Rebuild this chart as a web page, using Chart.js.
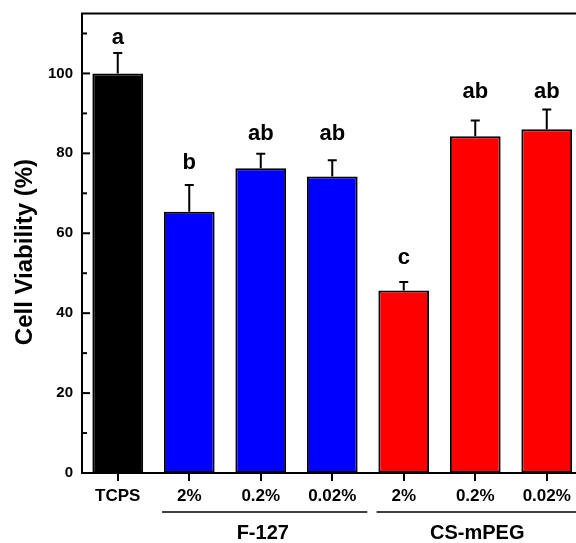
<!DOCTYPE html>
<html>
<head>
<meta charset="utf-8">
<script src="https://cdn.jsdelivr.net/npm/chart.js@4/dist/chart.umd.min.js"></script>
<style>
  html, body { margin: 0; padding: 0; background: #fff; overflow: hidden; }
  #wrap { width: 600px; height: 543px; }
</style>
</head>
<body>
<div id="wrap"><canvas id="c" width="600" height="543"></canvas></div>
<script>
// ---- data ----
const categories = ['TCPS', '2%', '0.2%', '0.02%', '2%', '0.2%', '0.02%'];
const viability = [100, 65.4, 76.3, 74.2, 45.7, 84.3, 86.0];
const errors    = [5.1, 6.7, 3.6, 4.1, 2.1, 3.9, 5.0];
const letters   = ['a', 'b', 'ab', 'ab', 'c', 'ab', 'ab'];
const letterAt  = [107.3, 76.2, 83.3, 83.3, 52.3, 93.9, 93.9];   // baseline of significance letters (in % units)
const barColors = ['#000000', '#0000ff', '#0000ff', '#0000ff', '#ff0000', '#ff0000', '#ff0000'];
const groupNames = ['F-127', 'CS-mPEG'];
const groupFirst = [1, 4];
const groupLast  = [3, 6];
const yTicks = [0, 20, 40, 60, 80, 100];
const yTitle = 'Cell Viability (%)';

const FONT = "'Liberation Sans', Arial, Helvetica, sans-serif";

const decor = {
  id: 'decor',
  afterDatasetsDraw(chart) {
    const ctx = chart.ctx;
    const ca = chart.chartArea;
    const xs = chart.scales.x, ys = chart.scales.y;
    ctx.save();
    ctx.strokeStyle = '#000';
    ctx.fillStyle = '#000';
    // error bars (upper only)
    ctx.lineWidth = 2;
    viability.forEach((v, i) => {
      const x = xs.getPixelForValue(i);
      const y0 = ys.getPixelForValue(v);
      const y1 = ys.getPixelForValue(v + errors[i]);
      ctx.beginPath();
      ctx.moveTo(x, y0); ctx.lineTo(x, y1);
      ctx.moveTo(x - 4.5, y1); ctx.lineTo(x + 4.5, y1);
      ctx.stroke();
    });
    // letters
    ctx.font = "bold 22px " + FONT;
    ctx.textAlign = 'center';
    ctx.textBaseline = 'alphabetic';
    letters.forEach((t, i) => {
      ctx.fillText(t, xs.getPixelForValue(i), ys.getPixelForValue(letterAt[i]));
    });
    // frame
    ctx.lineWidth = 2;
    ctx.beginPath();
    ctx.moveTo(ca.left, ca.bottom); ctx.lineTo(ca.left, ca.top); ctx.lineTo(ca.right, ca.top);
    ctx.lineTo(ca.right, ca.bottom); ctx.closePath();
    ctx.stroke();
    // y ticks inward, major + minor
    for (let v = 0; v <= ys.max; v += 10) {
      const y = ys.getPixelForValue(v);
      const len = (v % 20 === 0) ? 8 : 5;
      ctx.beginPath();
      ctx.moveTo(ca.left, y); ctx.lineTo(ca.left + len, y);
      ctx.stroke();
    }
    // group lines and labels
    const step = xs.getPixelForValue(1) - xs.getPixelForValue(0);
    ctx.lineWidth = 1.5;
    ctx.font = "bold 20px " + FONT;
    groupNames.forEach((name, g) => {
      const xa = xs.getPixelForValue(groupFirst[g]) - 0.38 * step;
      const xb = xs.getPixelForValue(groupLast[g]) + 0.49 * step;
      ctx.beginPath();
      ctx.moveTo(xa, 512); ctx.lineTo(xb, 512);
      ctx.stroke();
      const xm = (xs.getPixelForValue(groupFirst[g]) + xs.getPixelForValue(groupLast[g])) / 2;
      ctx.fillText(name, xm + 2, 539);
    });
    // y axis title
    ctx.font = "bold 24px " + FONT;
    ctx.translate(25, ys.getPixelForValue(55.3));
    ctx.rotate(-Math.PI / 2);
    ctx.textBaseline = 'middle';
    ctx.fillText(yTitle, 0, 0);
    ctx.restore();
  }
};

new Chart(document.getElementById('c'), {
  type: 'bar',
  data: {
    labels: categories,
    datasets: [{
      data: viability,
      backgroundColor: barColors,
      borderColor: '#000',
      borderWidth: 2,
      borderSkipped: false,
      barPercentage: 0.71,
      categoryPercentage: 1.0
    }]
  },
  options: {
    responsive: false,
    devicePixelRatio: 1,
    animation: false,
    layout: { padding: { top: 13.5, right: 17.5, left: 0, bottom: 0 } },
    plugins: { legend: { display: false }, tooltip: { enabled: false } },
    scales: {
      x: {
        afterFit(s) { s.height = 70; s.paddingLeft = 0; s.paddingRight = 0; },
        grid: { display: true, drawOnChartArea: false, offset: false, color: '#000', lineWidth: 2, tickLength: 8 },
        border: { display: false },
        ticks: { color: '#000', font: { family: FONT, size: 17, weight: 'bold' }, padding: 5, maxRotation: 0, autoSkip: false }
      },
      y: {
        min: 0, max: 115,
        afterFit(s) { s.width = 82; s.paddingTop = 0; s.paddingBottom = 0; },
        grid: { display: false, drawTicks: false },
        border: { display: false },
        afterBuildTicks(s) { s.ticks = yTicks.map(v => ({ value: v })); },
        ticks: { color: '#000', font: { family: FONT, size: 15, weight: 'bold' }, padding: 9 },
        title: { display: false, text: yTitle }
      }
    }
  },
  plugins: [decor]
});
</script>
</body>
</html>
